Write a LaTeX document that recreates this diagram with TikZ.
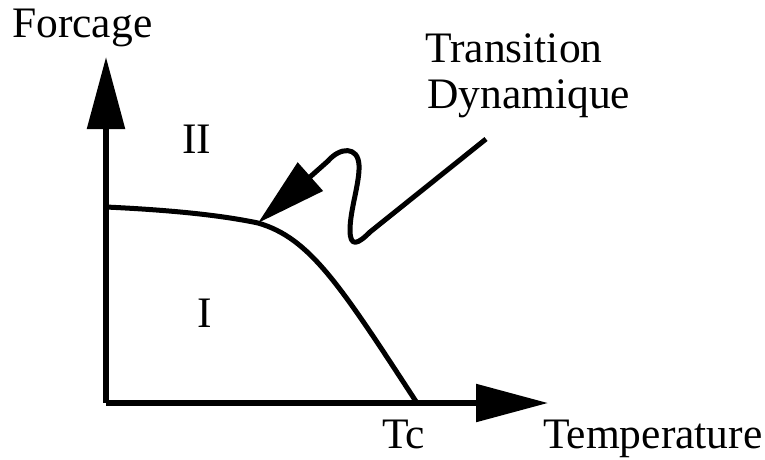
\documentclass[tikz,border=0pt]{standalone}
\usepackage{fontspec}
\setmainfont{Liberation Serif}
\usetikzlibrary{arrows.meta}
\tikzset{
  axis/.style={line width=5.5pt, -{Triangle[length=72pt,width=37pt]}},
  boundary/.style={line width=5pt},
  pointer/.style={line width=5pt, line join=round, -{Triangle[length=70pt,width=37pt]}},
  lbl/.style={inner sep=0pt, anchor=base west, font=\fontsize{43.5}{46}\selectfont}
}
\begin{document}
\begin{tikzpicture}[x=1pt,y=-1pt]
\useasboundingbox (0,0) rectangle (765,459);
\coordinate (O) at (106,403);
\coordinate (Ytip) at (106,57);
\coordinate (Xtip) at (548,403);
\coordinate (B0) at (106,207);
\coordinate (B1) at (258,223);
\coordinate (Tc0) at (417,403);
\coordinate (S0) at (486,139);
\draw[axis] (O) -- (Ytip);
\draw[axis] (O) -- (Xtip);
\draw[boundary] (B0) .. controls (170,210) and (220,215) .. (B1)
  .. controls (310,238) and (340,285) .. (Tc0);
\draw[pointer] (S0) -- (370,232) .. controls (358,244) and (350,248) .. (350,230)
  .. controls (350,210) and (360,182) .. (359,165)
  .. controls (358,146) and (340,147) .. (328,161) -- (B1);
\node[lbl] (forc) at (12,37) {Forcage};
\node[lbl] (trans) at (425,62) {Transition};
\node[lbl] (dyn) at (427,108) {Dynamique};
\node[lbl] (II) at (182,153) {II};
\node[lbl] (I) at (197,327) {I};
\node[lbl] (tc) at (382,448) {Tc};
\node[lbl] (temp) at (543,448) {Temperature};
\end{tikzpicture}
\end{document}
